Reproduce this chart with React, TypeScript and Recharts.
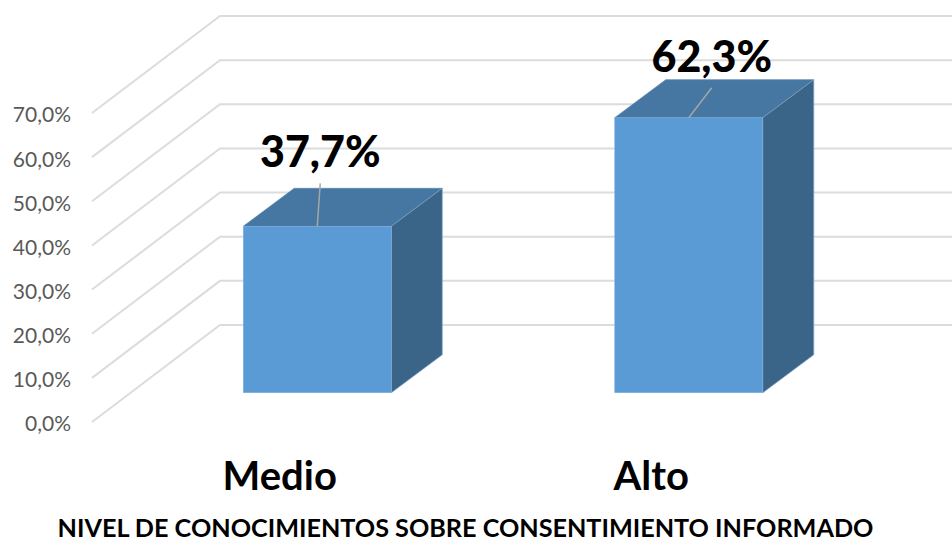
import { Bar, BarChart, CartesianGrid, Label, LabelList, XAxis, YAxis } from "recharts";

const categories = ["Medio", "Alto"];
const percentages = [37.7, 62.3];
const yTicks = [0, 10, 20, 30, 40, 50, 60, 70];
const axisTitle = "NIVEL DE CONOCIMIENTOS SOBRE CONSENTIMIENTO INFORMADO";

const rows = categories.map((name, i) => ({ name, value: percentages[i] }));

const FONT = "Lato, 'Open Sans', sans-serif";

// fake 3D: how far the back wall and the box depth sit from the front plane
const WALL_DX = 128;
const WALL_DY = -97;
const BOX_DX = 51;
const BOX_DY = -38;
// bars stand on the floor between the front edge and the back wall
const BAR_SHIFT_X = 39.25;
const BAR_SHIFT_Y = -29.25;

// where each leader line ends, relative to the top middle of the front face
const leaderEnds = [
  { dx: 3, dy: -43 },
  { dx: 23, dy: -30 },
];

const formatPct = (v: number) => `${v.toFixed(1).replace(".", ",")}%`;

function WallLine(props: any) {
  const { x1, x2, y1 } = props;
  const backX = x1 + WALL_DX;
  const backY = y1 + WALL_DY;
  return (
    <polyline
      key={props.key ?? y1}
      points={`${x1},${y1} ${backX},${backY} ${x2 + WALL_DX},${backY}`}
      fill="none"
      stroke="#DCDCDC"
      strokeWidth={2}
    />
  );
}

function Box3D(props: any) {
  const { x, y, width, height } = props;
  const left = x + BAR_SHIFT_X;
  const right = left + width;
  const top = y + BAR_SHIFT_Y;
  const bottom = top + height;
  return (
    <g>
      <polygon
        points={`${left},${top} ${left + BOX_DX},${top + BOX_DY} ${right + BOX_DX},${top + BOX_DY} ${right},${top}`}
        fill="#4676A2"
        stroke="#5B87AE"
        strokeWidth={0.75}
      />
      <polygon
        points={`${right},${top} ${right + BOX_DX},${top + BOX_DY} ${right + BOX_DX},${bottom + BOX_DY} ${right},${bottom}`}
        fill="#3A6488"
        stroke="#7FA3C4"
        strokeWidth={0.75}
      />
      <rect x={left} y={top} width={width} height={height} fill="#5B9BD5" stroke="#7FB2E0" strokeWidth={0.5} />
    </g>
  );
}

function ValueLabel(props: any) {
  const { x, y, width, value, index } = props;
  const startX = x + BAR_SHIFT_X + width / 2;
  const startY = y + BAR_SHIFT_Y;
  const end = leaderEnds[index];
  const endX = startX + end.dx;
  const endY = startY + end.dy;
  return (
    <g>
      <line x1={startX} y1={startY} x2={endX} y2={endY} stroke="#A6A6A6" strokeWidth={1.5} />
      <text
        x={endX}
        y={endY - 16}
        textAnchor="middle"
        fontFamily={FONT}
        fontWeight={900}
        fontSize={43}
        fill="#000000"
      >
        {formatPct(value)}
      </text>
    </g>
  );
}

export default function App() {
  return (
    <div style={{ position: "absolute", left: 0, top: 0 }}>
      <BarChart
        width={952}
        height={538}
        data={rows}
        margin={{ top: 113, right: 117, bottom: 0, left: 0 }}
        barSize={148}
      >
        <CartesianGrid vertical={false} horizontal={(p: any) => <WallLine {...p} />} />
        <XAxis
          dataKey="name"
          axisLine={false}
          tickLine={false}
          height={116}
          tickMargin={34}
          tick={{ fontFamily: FONT, fontWeight: 700, fontSize: 40, fill: "#000000", dx: 2 }}
        >
          <Label
            value={axisTitle}
            position="insideBottom"
            offset={1}
            dx={2}
            style={{ fontFamily: FONT, fontWeight: 700, fontSize: 25.2, fill: "#000000" }}
          />
        </XAxis>
        <YAxis
          width={92}
          domain={[0, 70]}
          ticks={yTicks}
          axisLine={false}
          tickLine={false}
          tickMargin={15}
          tickFormatter={formatPct}
          tick={{ fontFamily: FONT, fontSize: 21, fill: "#595959", dy: 2 }}
        />
        <Bar dataKey="value" shape={<Box3D />} isAnimationActive={false}>
          <LabelList dataKey="value" content={<ValueLabel />} />
        </Bar>
      </BarChart>
    </div>
  );
}
